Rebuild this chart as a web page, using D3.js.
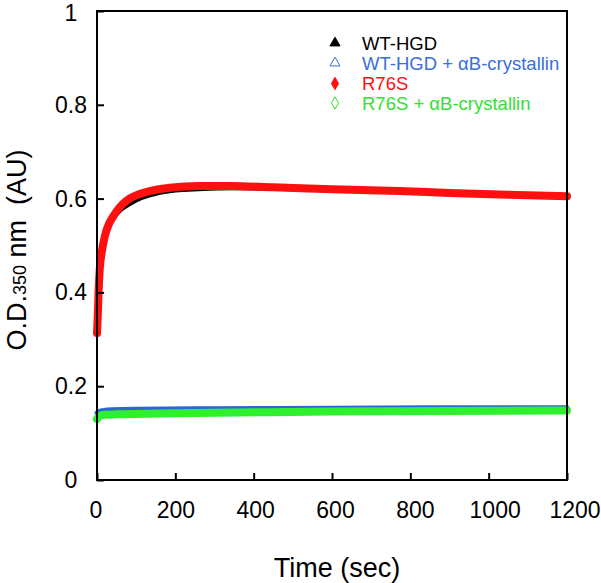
<!DOCTYPE html>
<html><head><meta charset="utf-8">
<script src="https://cdn.jsdelivr.net/npm/d3@7"></script>
<style>body{margin:0;background:#fff}svg{display:block}text{font-family:"Liberation Sans",Arial,sans-serif}</style>
</head><body>
<svg id="c" width="601" height="583"></svg>
<script>
// ---- data ----
const xTicks = [0, 200, 400, 600, 800, 1000, 1200];
const yTicks = [0, 0.2, 0.4, 0.6, 0.8, 1];
const seriesNames = ["WT-HGD", "WT-HGD + αB-crystallin", "R76S", "R76S + αB-crystallin"];
const wtTime  = [0, 3, 7, 14, 25, 40, 60, 83, 110, 150, 200, 260, 350, 500, 700, 900, 1050, 1200];
const wtOD    = [0.40, 0.44, 0.47, 0.50, 0.53, 0.555, 0.575, 0.588, 0.600, 0.610, 0.617, 0.620, 0.622, 0.620, 0.615, 0.611, 0.607, 0.604];
const wtAbTime = [0, 5, 15, 40, 100, 300, 600, 900, 1200];
const wtAbOD   = [0.143, 0.146, 0.148, 0.150, 0.151, 0.152, 0.153, 0.154, 0.154];
const r76Time = [0, 2, 4, 7, 12, 20, 30, 40, 50, 65, 83, 100, 134, 185, 262, 340, 450, 600, 773, 900, 1050, 1200];
const r76OD   = [0.313, 0.35, 0.40, 0.45, 0.485, 0.52, 0.545, 0.56, 0.573, 0.588, 0.600, 0.607, 0.616, 0.623, 0.627, 0.627, 0.624, 0.620, 0.616, 0.612, 0.608, 0.605];
const r76AbTime = [0, 3, 8, 20, 50, 130, 250, 364, 600, 900, 1200];
const r76AbOD   = [0.130, 0.134, 0.137, 0.139, 0.140, 0.141, 0.143, 0.144, 0.146, 0.147, 0.148];

const svg = d3.select("#c");
const L = 97, R = 567, T = 11, B = 480;
const x = d3.scaleLinear().domain([0, 1200]).range([L, R]);
const y = d3.scaleLinear().domain([0, 1]).range([B, T]);
const xLab = d3.scaleLinear().domain([0, 1200]).range([L - 1, R + 8]);

const line = d3.line().x(d => x(d[0])).y(d => y(d[1])).curve(d3.curveMonotoneX);
function draw(ts, vs, color, w) {
  svg.append("path").datum(ts.map((t, i) => [t, vs[i]]))
    .attr("d", line).attr("fill", "none").attr("stroke", color)
    .attr("stroke-width", w).attr("stroke-linecap", "round").attr("stroke-linejoin", "round");
}
draw(wtTime, wtOD, "#000000", 4);
draw(r76Time, r76OD, "#ff1010", 8);
draw(wtAbTime, wtAbOD, "#2f66d6", 5);
draw(r76AbTime, r76AbOD, "#2ef02e", 8);

// frame
svg.append("rect").attr("x", L).attr("y", T).attr("width", R - L).attr("height", B - T)
  .attr("fill", "none").attr("stroke", "#000").attr("stroke-width", 2);

// axes (ticks inward)
const xa = svg.append("g").attr("transform", `translate(0,${B})`)
  .call(d3.axisTop(x).tickValues(xTicks).tickSize(7).tickFormat(""));
const ya = svg.append("g").attr("transform", `translate(${L},0)`)
  .call(d3.axisRight(y).tickValues(yTicks).tickSize(7).tickFormat(""));
[xa, ya].forEach(g => { g.select(".domain").remove(); g.selectAll("line").attr("stroke", "#000").attr("stroke-width", 2); });

svg.append("g").selectAll("text").data(xTicks).join("text")
  .attr("x", d => xLab(d)).attr("y", 518).attr("text-anchor", "middle")
  .attr("font-size", 23).text(d => d);
svg.append("g").selectAll("text").data(yTicks).join("text")
  .attr("x", 71).attr("y", d => Math.max(y(d) + 8, 21)).attr("text-anchor", "middle")
  .attr("font-size", 23).text(d => d);

// axis titles
svg.append("text").attr("x", 337).attr("y", 577).attr("text-anchor", "middle")
  .attr("font-size", 27).text("Time (sec)");
const yl = svg.append("text").attr("transform", "translate(26,250) rotate(-90)")
  .attr("text-anchor", "middle").attr("font-size", 27);
yl.append("tspan").text("O.D.");
yl.append("tspan").attr("font-size", 18).text("350");
yl.append("tspan").text("\u00A0nm\u00A0\u00A0(AU)");

// legend
const legColors = ["#000000", "#3a6ed8", "#ff1010", "#33e033"];
const legSym = [d3.symbolTriangle, d3.symbolTriangle, d3.symbolDiamond, d3.symbolDiamond];
const legFill = [true, false, true, false];
const rowY = [43, 63, 83.5, 103];
const lg = svg.append("g");
seriesNames.forEach((n, i) => {
  lg.append("path").attr("d", d3.symbol().type(legSym[i]).size(44)())
    .attr("transform", `translate(335,${rowY[i]})`)
    .attr("fill", legFill[i] ? legColors[i] : "none")
    .attr("stroke", legColors[i]).attr("stroke-width", 1);
  lg.append("text").attr("x", 362).attr("y", rowY[i] + 6.5).attr("font-size", 18.5)
    .attr("fill", legColors[i]).text(n);
});
</script>
</body></html>
